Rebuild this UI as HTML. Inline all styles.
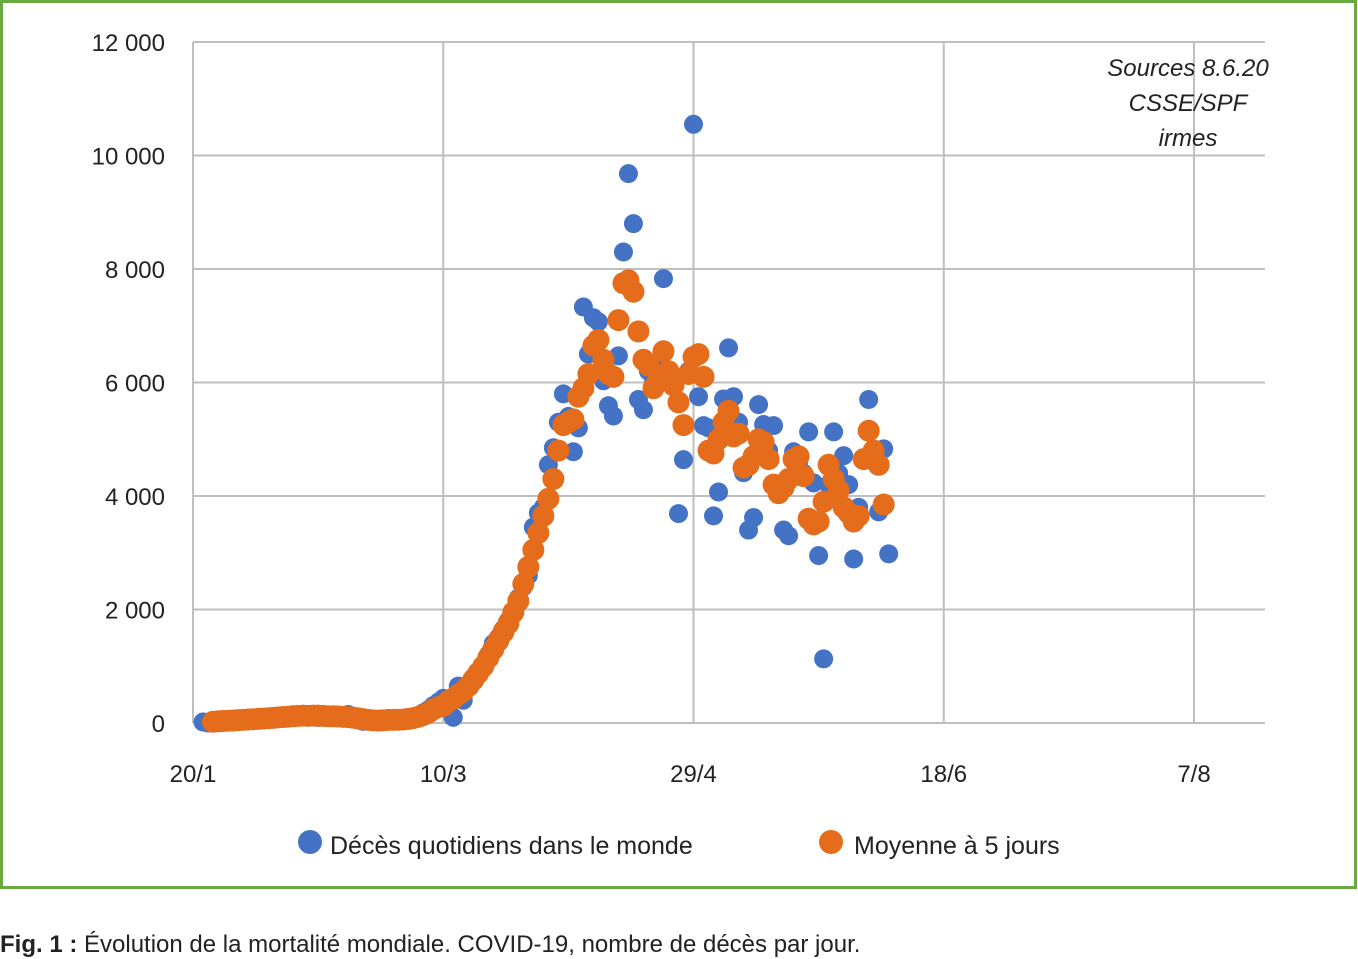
<!DOCTYPE html>
<html><head><meta charset="utf-8"><style>
body{margin:0;background:#fff;width:1358px;height:959px;overflow:hidden;font-family:"Liberation Sans",sans-serif;}
svg{position:absolute;left:0;top:0}
</style></head><body>
<svg id="c" width="1358" height="959">
<rect x="1.5" y="1.5" width="1354" height="886" fill="none" stroke="#6aa842" stroke-width="3"/>
<g id="grid"></g><g id="marks"></g>
<text x="1188" y="76" text-anchor="middle" font-style="italic" font-size="24" fill="#222">Sources 8.6.20</text>
<text x="1188" y="111" text-anchor="middle" font-style="italic" font-size="24" fill="#222">CSSE/SPF</text>
<text x="1188" y="146" text-anchor="middle" font-style="italic" font-size="24" fill="#222">irmes</text>
<circle cx="310" cy="842" r="12" fill="#4472c4"/>
<text x="330" y="854" font-size="25" fill="#222">Décès quotidiens dans le monde</text>
<circle cx="831" cy="842" r="12" fill="#e46c1a"/>
<text x="854" y="854" font-size="25" fill="#222">Moyenne à 5 jours</text>
<text x="0" y="952" font-size="24" fill="#222"><tspan font-weight="bold">Fig. 1 :</tspan> Évolution de la mortalité mondiale. COVID-19, nombre de décès par jour.</text>
</svg>
<script>
const yTicks=[0,2000,4000,6000,8000,10000,12000];
const yTickLabels=["0","2 000","4 000","6 000","8 000","10 000","12 000"];
const xTicks=[0,50,100,150,200];
const xTickLabels=["20/1","10/3","29/4","18/6","7/8"];
const dailyStart=2;
const dailyDeaths=[17,0,25,26,38,43,46,45,57,64,65,73,73,86,89,97,108,97,146,121,143,142,105,98,139,112,118,109,97,150,71,52,29,44,37,35,58,67,72,57,64,88,105,124,179,231,305,367,433,400,100,650,400,650,800,900,1000,1200,1400,1500,1650,1800,1950,2200,2400,2600,3450,3700,3800,4550,4850,5300,5800,5400,4780,5200,7330,6500,7140,7070,6030,5590,5410,6470,8300,9680,8800,5700,5520,6200,6000,6300,7830,6100,6000,3690,4640,6200,10550,5750,5240,5200,3650,4070,5710,6610,5750,5300,4410,3400,3620,5610,5260,4800,5240,4130,3400,3300,4780,4600,4400,5130,4230,2950,1130,4200,5130,4400,4710,4200,2890,3800,4670,5700,4700,3720,4830,2980];
const avgStart=4;
const avgDeaths=[22,30,36,40,45,51,56,62,67,72,77,84,91,100,105,110,120,125,130,126,131,130,125,120,118,115,108,104,94,84,68,55,47,42,47,54,56,58,62,72,86,108,140,180,240,280,300,380,430,500,560,650,760,880,1000,1150,1300,1450,1600,1750,1950,2150,2450,2750,3050,3350,3650,3950,4300,4800,5250,5300,5350,5750,5900,6150,6650,6750,6400,6150,6100,7100,7750,7800,7600,6900,6400,6300,5900,6100,6550,6200,5950,5650,5250,6150,6450,6500,6100,4800,4750,5000,5300,5500,5050,5100,4500,4550,4700,5000,4950,4650,4200,4050,4150,4300,4650,4700,4350,3600,3500,3550,3900,4550,4300,4100,3800,3700,3550,3650,4650,5150,4800,4550,3850];
const X0=193,PX_DAY=(1194-193)/200,Y0=723,PX_VAL=(723-42)/12000,XR=1265;
const xs=d=>X0+d*PX_DAY, ys=v=>Y0-v*PX_VAL;
const NS="http://www.w3.org/2000/svg";
const grid=document.getElementById('grid'),marks=document.getElementById('marks');
function mk(tag,attrs,parent){const e=document.createElementNS(NS,tag);for(const k in attrs)e.setAttribute(k,attrs[k]);parent.appendChild(e);return e;}
yTicks.forEach((v,i)=>{
 const l=mk('line',{x1:X0,x2:XR,y1:ys(v),y2:ys(v),stroke:'#bfbfbf','stroke-width':2},grid);
 
 
 const t=mk('text',{x:165,y:ys(v)+9,'text-anchor':'end','font-size':24,fill:'#222'},grid);
 t.textContent=yTickLabels[i];
 
 
});
xTicks.forEach((d,i)=>{
 const l=mk('line',{x1:xs(d),x2:xs(d),y1:ys(12000),y2:Y0,stroke:'#bfbfbf','stroke-width':2},grid);
 
 
 const t=mk('text',{x:xs(d),y:782,'text-anchor':'middle','font-size':24,fill:'#222'},grid);
 t.textContent=xTickLabels[i];
 
 
});
dailyDeaths.forEach((v,i)=>{
 const c=mk('circle',{cx:xs(dailyStart+i),cy:ys(v),r:9.5,fill:'#4472c4'},marks);
 
 
});
avgDeaths.forEach((v,i)=>{
 const c=mk('circle',{cx:xs(avgStart+i),cy:ys(v),r:11,fill:'#e46c1a'},marks);
 
 
});
</script>
</body></html>
